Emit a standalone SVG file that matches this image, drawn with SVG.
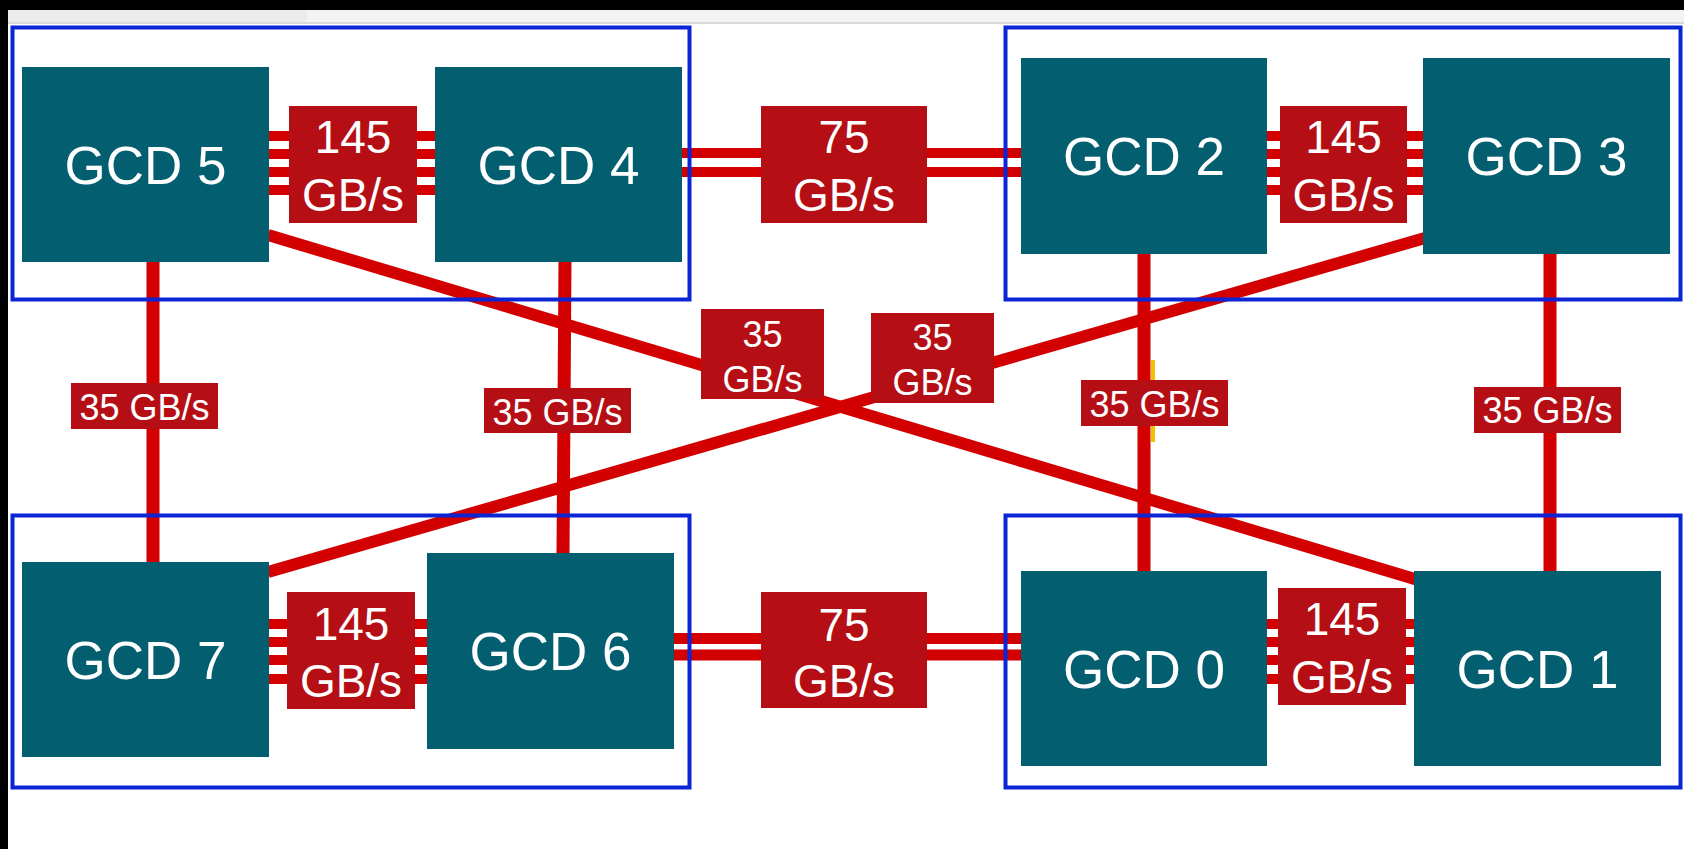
<svg xmlns="http://www.w3.org/2000/svg" width="1684" height="849" viewBox="0 0 1684 849">
<style>
.gcd rect{fill:#035e70}
.gcd text{fill:#fff;font-family:"Liberation Sans",Arial,sans-serif;font-size:53px;text-anchor:middle}
.grp{fill:none;stroke:#0b24d4;stroke-width:4}
.ln{stroke:#d20000;fill:none}
.lb rect{fill:#b50f15}
.lb text{fill:#fff;font-family:"Liberation Sans",Arial,sans-serif;text-anchor:middle}
.big{font-size:46px}
.sm{font-size:36px}
</style>
<rect x="0" y="0" width="1684" height="849" fill="#fff"/>
<rect x="8" y="10" width="1676" height="14" fill="#f3f3f3"/>
<rect x="8" y="10" width="298" height="14" fill="#ebebeb"/>
<rect x="8" y="22" width="1676" height="2" fill="#dadada"/>
<rect x="0" y="0" width="1684" height="10" fill="#000"/>
<rect x="0" y="0" width="8" height="849" fill="#000"/>

<g id="connectors">
  <g class="ln" stroke-width="10">
    <line x1="268" y1="136" x2="437" y2="136"/>
    <line x1="268" y1="154" x2="437" y2="154"/>
    <line x1="268" y1="172" x2="437" y2="172"/>
    <line x1="268" y1="190" x2="437" y2="190"/>
    <line x1="1265" y1="136" x2="1425" y2="136"/>
    <line x1="1265" y1="154" x2="1425" y2="154"/>
    <line x1="1265" y1="172" x2="1425" y2="172"/>
    <line x1="1265" y1="190" x2="1425" y2="190"/>
    <line x1="268" y1="624" x2="429" y2="624"/>
    <line x1="268" y1="642" x2="429" y2="642"/>
    <line x1="268" y1="660" x2="429" y2="660"/>
    <line x1="268" y1="679" x2="429" y2="679"/>
    <line x1="1265" y1="624" x2="1416" y2="624"/>
    <line x1="1265" y1="642" x2="1416" y2="642"/>
    <line x1="1265" y1="660" x2="1416" y2="660"/>
    <line x1="1265" y1="679" x2="1416" y2="679"/>
    <line x1="681" y1="153" x2="1023" y2="153"/>
    <line x1="681" y1="172" x2="1023" y2="172"/>
  </g>
  <g class="ln" stroke-width="11">
    <line x1="672" y1="638.5" x2="1023" y2="638.5"/>
    <line x1="672" y1="655" x2="1023" y2="655"/>
  </g>
  <rect x="1151" y="360" width="4" height="82" fill="#f2c200"/>
  <g class="ln" stroke-width="13">
    <line x1="153" y1="260" x2="153" y2="564"/>
    <line x1="565" y1="260" x2="563" y2="555"/>
    <line x1="1144" y1="252" x2="1144" y2="573"/>
    <line x1="1550" y1="252" x2="1550" y2="573"/>
  </g>
  <g class="ln" stroke-width="12">
    <line x1="268" y1="235" x2="1418" y2="580"/>
    <line x1="1425" y1="238" x2="268" y2="572"/>
  </g>
  <g class="lb">
    <rect x="289" y="106" width="128" height="117"/>
    <text class="big" x="353" y="153">145</text>
    <text class="big" x="353" y="211">GB/s</text>
    <rect x="1280" y="106" width="127" height="117"/>
    <text class="big" x="1343.5" y="153">145</text>
    <text class="big" x="1343.5" y="211">GB/s</text>
    <rect x="287" y="592" width="128" height="117"/>
    <text class="big" x="351" y="640">145</text>
    <text class="big" x="351" y="697">GB/s</text>
    <rect x="1278" y="588" width="128" height="117"/>
    <text class="big" x="1342" y="635">145</text>
    <text class="big" x="1342" y="693">GB/s</text>
    <rect x="761" y="106" width="166" height="117"/>
    <text class="big" x="844" y="153">75</text>
    <text class="big" x="844" y="211">GB/s</text>
    <rect x="761" y="592" width="166" height="116"/>
    <text class="big" x="844" y="641">75</text>
    <text class="big" x="844" y="697">GB/s</text>
    <rect x="71" y="383" width="147" height="46"/>
    <text class="sm" x="144.5" y="420">35 GB/s</text>
    <rect x="484" y="388" width="147" height="45"/>
    <text class="sm" x="557.5" y="425">35 GB/s</text>
    <rect x="1081" y="380" width="147" height="46"/>
    <text class="sm" x="1154.5" y="417">35 GB/s</text>
    <rect x="1474" y="387" width="147" height="46"/>
    <text class="sm" x="1547.5" y="423">35 GB/s</text>
    <rect x="701" y="309" width="123" height="90"/>
    <text class="sm" x="762.5" y="347">35</text>
    <text class="sm" x="762.5" y="392">GB/s</text>
    <rect x="871" y="313" width="123" height="90"/>
    <text class="sm" x="932.5" y="350">35</text>
    <text class="sm" x="932.5" y="395">GB/s</text>
  </g>
</g>

<g id="groups">
  <rect id="grp-tl" class="grp" x="12.5" y="27.5" width="677" height="272"/>
  <rect id="grp-tr" class="grp" x="1005.5" y="27.5" width="675" height="272"/>
  <rect id="grp-bl" class="grp" x="12.5" y="515.5" width="677" height="272"/>
  <rect id="grp-br" class="grp" x="1005.5" y="515.5" width="675" height="272"/>
</g>

<g id="gcd5" class="gcd"><rect x="22" y="67" width="247" height="195"/><text x="145.5" y="183.5">GCD 5</text></g>
<g id="gcd4" class="gcd"><rect x="435" y="67" width="247" height="195"/><text x="558.5" y="183.5">GCD 4</text></g>
<g id="gcd2" class="gcd"><rect x="1021" y="58" width="246" height="196"/><text x="1144" y="174.5">GCD 2</text></g>
<g id="gcd3" class="gcd"><rect x="1423" y="58" width="247" height="196"/><text x="1546.5" y="174.5">GCD 3</text></g>
<g id="gcd7" class="gcd"><rect x="22" y="562" width="247" height="195"/><text x="145.5" y="678.5">GCD 7</text></g>
<g id="gcd6" class="gcd"><rect x="427" y="553" width="247" height="196"/><text x="550.5" y="669.5">GCD 6</text></g>
<g id="gcd0" class="gcd"><rect x="1021" y="571" width="246" height="195"/><text x="1144" y="687.5">GCD 0</text></g>
<g id="gcd1" class="gcd"><rect x="1414" y="571" width="247" height="195"/><text x="1537.5" y="687.5">GCD 1</text></g>
</svg>
